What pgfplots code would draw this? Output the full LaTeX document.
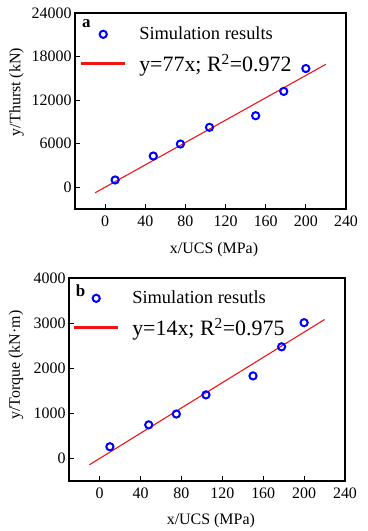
\documentclass[border=0pt]{standalone}
\usepackage{pgfplots}
\pgfplotsset{compat=1.18}
\usepackage{fontspec}
\setmainfont{Liberation Serif}
\definecolor{mblue}{RGB}{0,0,255}
\definecolor{mred}{RGB}{240,20,25}
\pgfplotsset{
  myax/.style={
    scale only axis,
    xmin=-30, xmax=240,
    xtick={0,40,...,240},
    tick align=inside,
    xtick pos=bottom, ytick pos=left,
    major tick length=5bp,
    axis line style={line width=1.2bp},
    tick style={line width=1bp, black},
    scaled ticks=false,
    /pgf/number format/1000 sep={},
    /pgf/number format/assume math mode=true,
    tick label style={font=\fontsize{16}{16}\selectfont},
    xticklabel style={yshift=-3bp},
    label style={font=\fontsize{16}{16}\selectfont},
    legend cell align=left,
    legend style={draw=none, fill=none, inner xsep=0pt, inner ysep=0pt,
      row sep=8.5bp,
      nodes={inner sep=2bp},
      /tikz/every odd column/.append style={column sep=12bp}},
  },
  marklegend/.style={legend image code/.code={\draw[mark repeat=2,mark phase=2,##1] plot coordinates {(0bp,0bp) (21.5bp,0bp) (43bp,0bp)};}},
  linelegend/.style={legend image code/.code={\fill[mred] (0bp,-0.6bp) rectangle (43bp,0.6bp);}},
}
\begin{document}
\begin{tikzpicture}
\useasboundingbox (0,0) rectangle (368bp,-531bp);
% Top axis
\begin{axis}[myax,
  at={(75bp,-209bp)}, anchor=south west,
  width=271bp, height=196bp,
  ymin=-3000, ymax=24000,
  ytick={0,6000,...,24000},
  xlabel={x/UCS (MPa)},
  ylabel={y/Thurst (kN)},
  xlabel style={at={(axis description cs:0.513,-0.205)}, anchor=center},
  ylabel style={at={(axis description cs:-0.216,0.597)}, anchor=center},
  legend style={at={(axis description cs:0.022,0.939)}, anchor=north west},
]
\addplot[only marks, mark=o, mark size=3.6bp, mblue, mark options={line width=2bp}, marklegend]
  coordinates {(10,1000) (48,4300) (75,5950) (104,8250) (150,9850) (178,13200) (200,16350)};
\addlegendentry{\fontsize{18.5}{18.5}\selectfont Simulation results}
\addplot[color=mred, line width=1.1bp, no marks, linelegend] coordinates {(-10,-770) (220,16940)};
\addlegendentry{\fontsize{22}{22}\selectfont y=77x; R\textsuperscript{2}=0.972}
\node[font=\fontsize{17}{17}\selectfont\bfseries] at (axis description cs:0.042,0.944) {a};
\end{axis}
% Bottom axis
\begin{axis}[myax,
  at={(69bp,-481bp)}, anchor=south west,
  width=276bp, height=203bp,
  ymin=-500, ymax=4000,
  ytick={0,1000,...,4000},
  xlabel={x/UCS (MPa)},
  ylabel={y/Torque (kN·m)},
  xlabel style={at={(axis description cs:0.514,-0.197)}, anchor=center},
  ylabel style={at={(axis description cs:-0.192,0.571)}, anchor=center},
  legend style={at={(axis description cs:0.018,0.946)}, anchor=north west},
]
\addplot[only marks, mark=o, mark size=3.6bp, mblue, mark options={line width=2bp}, marklegend]
  coordinates {(10,260) (48,745) (75,985) (104,1410) (150,1830) (178,2475) (200,3010)};
\addlegendentry{\fontsize{18.5}{18.5}\selectfont Simulation resutls}
\addplot[color=mred, line width=1.1bp, no marks, linelegend] coordinates {(-10,-140) (220,3080)};
\addlegendentry{\fontsize{22}{22}\selectfont y=14x; R\textsuperscript{2}=0.975}
\node[font=\fontsize{17}{17}\selectfont\bfseries] at (axis description cs:0.042,0.936) {b};
\end{axis}
\end{tikzpicture}
\end{document}
